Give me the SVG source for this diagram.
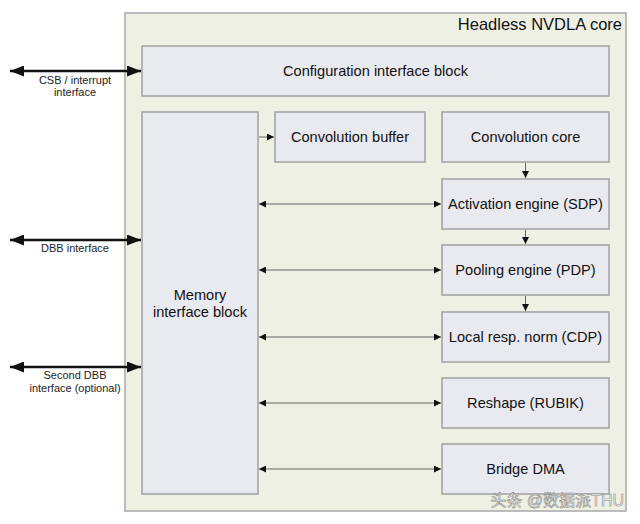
<svg xmlns="http://www.w3.org/2000/svg" width="640" height="524" viewBox="0 0 640 524">
<style>
.core{fill:#eef0e4;stroke:#a8a8a8;stroke-width:1.5}
.box{fill:#e9e9f0;stroke:#a0a0a0;stroke-width:1.5}
.t{font-family:"Liberation Sans",Arial,sans-serif;font-size:14.6px;fill:#111;text-anchor:middle}
.s{font-family:"Liberation Sans",Arial,sans-serif;font-size:11px;fill:#222;text-anchor:middle}
.thin{stroke:#666;stroke-width:1;fill:none}
.thick{stroke:#111;stroke-width:2.5;fill:none}
</style>
<defs>
<marker id="a" viewBox="0 0 10 10" refX="10" refY="5" markerWidth="7" markerHeight="7" markerUnits="userSpaceOnUse" orient="auto-start-reverse"><path d="M0,0L10,5L0,10z" fill="#111"/></marker>
<marker id="A" viewBox="0 0 10 10" refX="10" refY="5" markerWidth="14" markerHeight="11" markerUnits="userSpaceOnUse" orient="auto-start-reverse" preserveAspectRatio="none"><path d="M0,0L10,5L0,10z" fill="#111"/></marker>
</defs>
<rect width="640" height="524" fill="#fff"/>
<g id="core">
<rect class="core" x="125" y="13" width="501" height="498"/>
<text x="622" y="30" font-family="Liberation Sans,Arial,sans-serif" font-size="16.5" fill="#111" text-anchor="end">Headless NVDLA core</text>
</g>
<g id="config"><rect class="box" x="142" y="46" width="467" height="50"/><text class="t" x="375.5" y="76">Configuration interface block</text></g>
<g id="memory"><rect class="box" x="142" y="112" width="116" height="382"/><text class="t" x="200" y="300">Memory</text><text class="t" x="200" y="317">interface block</text></g>
<g id="convbuf"><rect class="box" x="275" y="112" width="150" height="50"/><text class="t" x="350" y="142">Convolution buffer</text></g>
<g id="convcore"><rect class="box" x="442" y="112" width="167" height="50"/><text class="t" x="525.5" y="142">Convolution core</text></g>
<g id="sdp"><rect class="box" x="442" y="179" width="167" height="50"/><text class="t" x="525.5" y="209">Activation engine (SDP)</text></g>
<g id="pdp"><rect class="box" x="442" y="245" width="167" height="50"/><text class="t" x="525.5" y="275">Pooling engine (PDP)</text></g>
<g id="cdp"><rect class="box" x="442" y="312" width="167" height="50"/><text class="t" x="525.5" y="342">Local resp. norm (CDP)</text></g>
<g id="rubik"><rect class="box" x="442" y="378" width="167" height="50"/><text class="t" x="525.5" y="408">Reshape (RUBIK)</text></g>
<g id="bdma"><rect class="box" x="442" y="444" width="167" height="50"/><text class="t" x="525.5" y="474">Bridge DMA</text></g>
<g id="connectors">
<line class="thin" x1="259" y1="137" x2="274" y2="137" marker-end="url(#a)"/>
<line class="thin" x1="525.5" y1="163" x2="525.5" y2="178" marker-end="url(#a)"/>
<line class="thin" x1="525.5" y1="230" x2="525.5" y2="244" marker-end="url(#a)"/>
<line class="thin" x1="525.5" y1="296" x2="525.5" y2="311" marker-end="url(#a)"/>
<line class="thin" x1="259" y1="204" x2="441" y2="204" marker-start="url(#a)" marker-end="url(#a)"/>
<line class="thin" x1="259" y1="270" x2="441" y2="270" marker-start="url(#a)" marker-end="url(#a)"/>
<line class="thin" x1="259" y1="337" x2="441" y2="337" marker-start="url(#a)" marker-end="url(#a)"/>
<line class="thin" x1="259" y1="403" x2="441" y2="403" marker-start="url(#a)" marker-end="url(#a)"/>
<line class="thin" x1="259" y1="469" x2="441" y2="469" marker-start="url(#a)" marker-end="url(#a)"/>
<line class="thick" x1="10" y1="71" x2="141" y2="71" marker-start="url(#A)" marker-end="url(#A)"/>
<line class="thick" x1="10" y1="240" x2="141" y2="240" marker-start="url(#A)" marker-end="url(#A)"/>
<line class="thick" x1="10" y1="367" x2="141" y2="367" marker-start="url(#A)" marker-end="url(#A)"/>
<text class="s" x="75" y="84">CSB / interrupt</text>
<text class="s" x="75" y="96">interface</text>
<text class="s" x="75" y="252">DBB interface</text>
<text class="s" x="75" y="379">Second DBB</text>
<text class="s" x="75" y="392">interface (optional)</text>
</g>
<text x="624" y="506" font-family="Liberation Sans,Noto Sans CJK SC,sans-serif" font-size="16" fill="#fff" stroke="#888" stroke-width="0.6" text-anchor="end">头条 @数据派THU</text>
</svg>
